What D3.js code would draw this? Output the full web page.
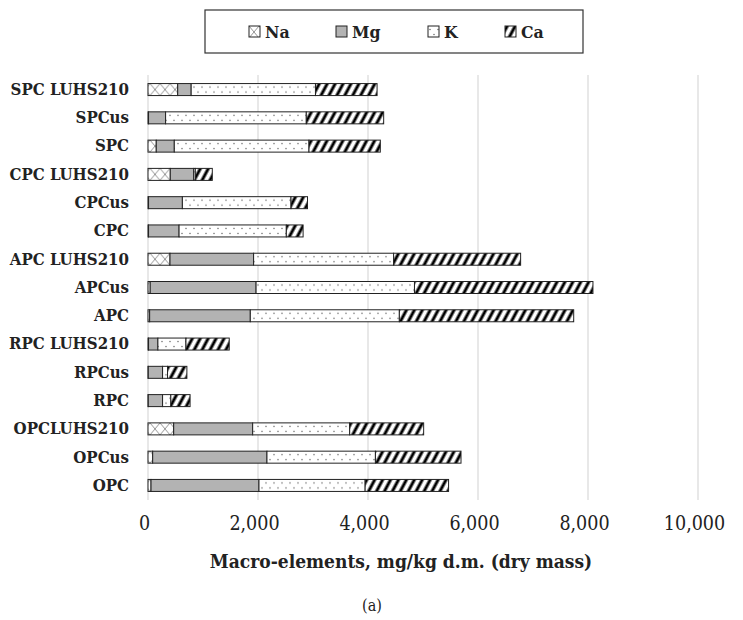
<!DOCTYPE html>
<html>
<head>
<meta charset="utf-8">
<script src="https://cdn.jsdelivr.net/npm/d3@7"></script>
<style>
  body { margin: 0; background: #fff; }
  svg { display: block; }
</style>
</head>
<body>
<div id="chart"></div>
<script>
const width = 743;
const height = 620;
const font = "'DejaVu Serif Condensed', 'DejaVu Serif', serif";

// Data (mg/kg d.m.)
const samples = ["SPC LUHS210", "SPCus", "SPC", "CPC LUHS210", "CPCus", "CPC",
  "APC LUHS210", "APCus", "APC", "RPC LUHS210", "RPCus", "RPC",
  "OPCLUHS210", "OPCus", "OPC"];
const elements = ["Na", "Mg", "K", "Ca"];
const naValues = [540, 10, 150, 405, 10, 10, 400, 40, 30, 10, 5, 5, 467, 85, 55];
const mgValues = [245, 310, 328, 425, 615, 555, 1520, 1925, 1830, 170, 260, 260, 1436, 2078, 1963];
const kValues = [2260, 2558, 2449, 30, 1975, 1950, 2546, 2880, 2710, 510, 90, 150, 1764, 1972, 1930];
const caValues = [1120, 1407, 1297, 309, 300, 305, 2309, 3245, 3170, 787, 352, 350, 1345, 1556, 1517];
const xTicks = [0, 2000, 4000, 6000, 8000, 10000];

const table = samples.map((s, i) => ({
  sample: s, Na: naValues[i], Mg: mgValues[i], K: kValues[i], Ca: caValues[i]
}));

const svg = d3.select("#chart").append("svg")
  .attr("width", width)
  .attr("height", height);

// fill patterns
const defs = svg.append("defs");
const barH = 12;

const na = defs.append("pattern").attr("id", "pat-Na")
  .attr("patternUnits", "userSpaceOnUse").attr("width", 10).attr("height", barH);
na.append("rect").attr("width", 10).attr("height", barH).attr("fill", "#fff");
na.append("path").attr("d", `M0,0 L10,${barH} M10,0 L0,${barH}`)
  .attr("stroke", "#888").attr("stroke-width", 0.9).attr("fill", "none");

const mg = defs.append("pattern").attr("id", "pat-Mg")
  .attr("patternUnits", "userSpaceOnUse").attr("width", 10).attr("height", barH);
mg.append("rect").attr("width", 10).attr("height", barH).attr("fill", "#b3b3b3");

const k = defs.append("pattern").attr("id", "pat-K")
  .attr("patternUnits", "userSpaceOnUse").attr("width", 8).attr("height", barH);
k.append("rect").attr("width", 8).attr("height", barH).attr("fill", "#fff");
k.append("circle").attr("cx", 2).attr("cy", 3.5).attr("r", 0.7).attr("fill", "#555");
k.append("circle").attr("cx", 6).attr("cy", 8.5).attr("r", 0.7).attr("fill", "#555");

const ca = defs.append("pattern").attr("id", "pat-Ca")
  .attr("patternUnits", "userSpaceOnUse").attr("width", 7).attr("height", 20)
  .attr("patternTransform", "rotate(28)");
ca.append("rect").attr("width", 7).attr("height", 20).attr("fill", "#fff");
ca.append("line").attr("x1", 2).attr("x2", 2).attr("y1", 0).attr("y2", 20)
  .attr("stroke", "#000").attr("stroke-width", 3);

// scales
const x = d3.scaleLinear().domain([0, 10000]).range([148, 698]);
const y = d3.scaleBand().domain(samples).range([75, 500]).paddingInner(0.57).paddingOuter(0.3);

// gridlines
svg.append("g").selectAll("line")
  .data(xTicks)
  .join("line")
  .attr("x1", d => x(d)).attr("x2", d => x(d))
  .attr("y1", 75).attr("y2", 500)
  .attr("stroke", "#d9d9d9").attr("stroke-width", 1.2);

// stacked bars
const stack = d3.stack().keys(elements)(table);

const rows = svg.append("g").selectAll("g.row")
  .data(samples)
  .join("g")
  .attr("class", "row")
  .attr("transform", d => `translate(0, ${y(d) + y.bandwidth() / 2 - barH / 2})`);

rows.each(function(s, i) {
  d3.select(this).selectAll("rect")
    .data(stack.map(layer => ({ key: layer.key, v: layer[i] })))
    .join("rect")
    .attr("x", d => x(d.v[0]))
    .attr("y", 0)
    .attr("width", d => x(d.v[1]) - x(d.v[0]))
    .attr("height", barH)
    .attr("fill", d => `url(#pat-${d.key})`)
    .attr("stroke", "#222")
    .attr("stroke-width", 1);
});

// category labels
const yAxis = d3.axisLeft(y).tickSize(0).tickPadding(0);
const yg = svg.append("g")
  .attr("transform", "translate(129, 0)")
  .call(yAxis);
yg.select(".domain").remove();
yg.selectAll("text")
  .attr("font-family", font)
  .attr("font-size", "16.7px")
  .attr("font-weight", "bold")
  .attr("fill", "#222");

// x axis
const xAxis = d3.axisBottom(x).tickValues(xTicks).tickSize(0).tickPadding(0)
  .tickFormat(d3.format(","));
const xg = svg.append("g")
  .attr("transform", "translate(-4, 516)")
  .call(xAxis);
xg.select(".domain").remove();
xg.selectAll("text")
  .attr("font-family", font)
  .attr("font-size", "19.5px")
  .attr("fill", "#222");

// axis title
svg.append("text")
  .attr("x", 401).attr("y", 568)
  .attr("text-anchor", "middle")
  .attr("font-family", font)
  .attr("font-size", "19px")
  .attr("font-weight", "bold")
  .attr("fill", "#222")
  .text("Macro-elements, mg/kg d.m. (dry mass)");

svg.append("text")
  .attr("x", 372).attr("y", 611)
  .attr("text-anchor", "middle")
  .attr("font-family", font)
  .attr("font-size", "16px")
  .attr("fill", "#222")
  .text("(a)");

// legend
const legend = svg.append("g");
legend.append("rect")
  .attr("x", 205).attr("y", 10).attr("width", 378).attr("height", 43)
  .attr("fill", "#fff").attr("stroke", "#333").attr("stroke-width", 1.2);

const legendX = [249, 336, 428, 505];
const items = legend.selectAll("g.item")
  .data(elements)
  .join("g")
  .attr("class", "item")
  .attr("transform", (d, i) => `translate(${legendX[i]}, 26)`);
items.append("rect")
  .attr("width", 11).attr("height", 11)
  .attr("fill", d => `url(#pat-${d})`)
  .attr("stroke", "#222").attr("stroke-width", 1);
items.append("text")
  .attr("x", 16).attr("y", 11.5)
  .attr("font-family", font)
  .attr("font-size", "17.5px")
  .attr("font-weight", "bold")
  .attr("fill", "#222")
  .text(d => d);
</script>
</body>
</html>
